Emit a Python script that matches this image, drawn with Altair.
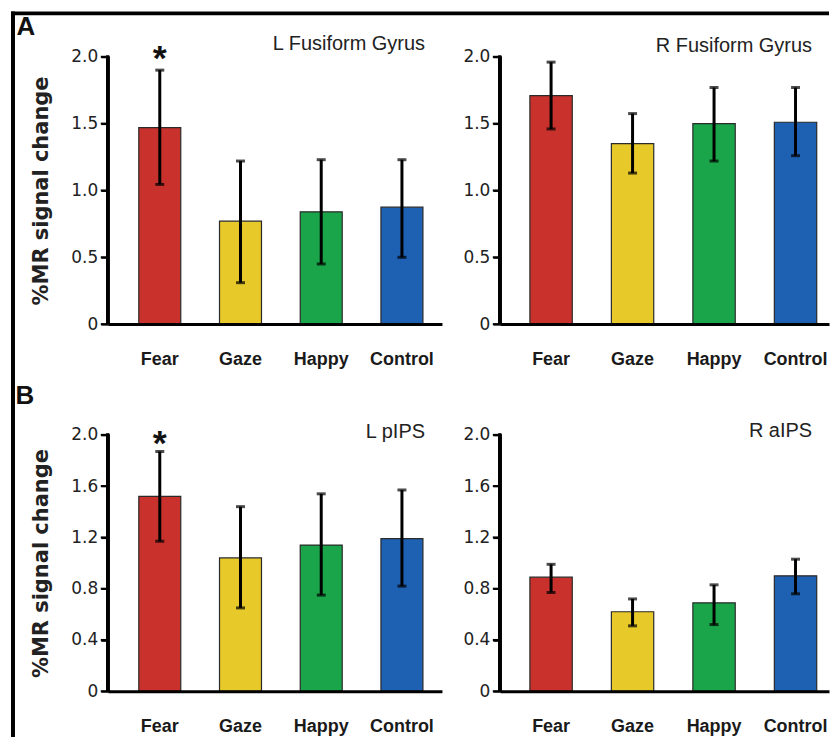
import altair as alt
import pandas as pd

# ---------------- data ----------------
categories = ["Fear", "Gaze", "Happy", "Control"]
bar_colors = ["#C8312C", "#E8C92A", "#1AA54A", "#1E61B3"]

panel_titles = ["L Fusiform Gyrus", "R Fusiform Gyrus", "L pIPS", "R aIPS"]
panel_letters = ["A", "B"]
y_axis_title = "%MR signal change"

lfg_mean = [1.47, 0.77, 0.84, 0.875]
lfg_low = [1.045, 0.31, 0.45, 0.50]
lfg_high = [1.90, 1.22, 1.23, 1.23]

rfg_mean = [1.71, 1.35, 1.50, 1.51]
rfg_low = [1.46, 1.13, 1.22, 1.26]
rfg_high = [1.96, 1.575, 1.77, 1.77]

lpips_mean = [1.52, 1.04, 1.14, 1.19]
lpips_low = [1.17, 0.65, 0.75, 0.82]
lpips_high = [1.87, 1.44, 1.54, 1.57]

raips_mean = [0.89, 0.62, 0.69, 0.90]
raips_low = [0.77, 0.51, 0.52, 0.76]
raips_high = [0.99, 0.72, 0.83, 1.03]

y_ticks_top = [0, 0.5, 1.0, 1.5, 2.0]
y_ticks_bottom = [0, 0.4, 0.8, 1.2, 1.6, 2.0]

star_categories = ["Fear", "Fear"]
star_values = [2.04, 1.99]

# ---------------- layout ----------------
W_LEFT, W_RIGHT = 335, 330
H_TOP, H_BOTTOM = 268, 257

LABEL_EXPR = "datum.value == 0 ? '0' : format(datum.value, '.1f')"


def panel(title, means, lows, highs, ticks, width, height, left, pad_outer, align,
          title_y, star=None, extra=None):
    df = pd.DataFrame({"cat": categories, "mean": means, "low": lows, "high": highs})
    xscale = alt.Scale(paddingInner=0.48, paddingOuter=pad_outer, align=align)
    xaxis = alt.Axis(title=None, labelAngle=0, ticks=False,
                     labelPadding=26, labelFont="Liberation Sans",
                     labelFontWeight="bold", labelFontSize=18,
                     labelColor="#1a1a1a", domain=True, domainColor="black",
                     domainWidth=3, zindex=1)
    yaxis_kwargs = dict(values=ticks, labelExpr=LABEL_EXPR, grid=False,
                        domain=True, ticks=True, domainColor="black",
                        domainWidth=3, tickColor="black", tickWidth=2,
                        tickSize=7, labelFont="DejaVu Sans",
                        labelFontSize=17, labelColor="#222", labelPadding=3,
                        zindex=1)
    if left:
        yaxis_kwargs.update(title=y_axis_title, titleFont="DejaVu Sans",
                            titleFontWeight="bold", titleFontSize=21,
                            titleColor="#222", titleAngle=270, titleX=-66,
                            titleY=height / 2, titleAlign="center",
                            titleBaseline="middle")
    else:
        yaxis_kwargs.update(title="")
    yscale = alt.Scale(domain=[0, 2], nice=False)

    def X():
        return alt.X("cat:N", sort=categories, scale=xscale, axis=xaxis)

    def Y(field):
        return alt.Y(field, scale=yscale, axis=alt.Axis(**yaxis_kwargs))

    base = alt.Chart(df)
    bars = base.mark_bar(stroke="#2a2a2a", strokeWidth=1.2).encode(
        x=X(), y=Y("mean:Q"),
        color=alt.Color("cat:N", scale=alt.Scale(domain=categories, range=bar_colors),
                        legend=None),
    )
    err = base.mark_rule(color="black", strokeWidth=3).encode(
        x=X(), y=Y("low:Q"), y2="high:Q",
    )
    caps = base.transform_fold(["low", "high"], as_=["k", "v"]).mark_tick(
        color="black", thickness=3, size=9
    ).encode(x=X(), y=Y("v:Q"))

    ttl = alt.Chart(pd.DataFrame({"t": [title]})).mark_text(
        align="right", baseline="alphabetic", font="Liberation Sans",
        fontSize=20, color="#222"
    ).encode(x=alt.value(width - 17), y=alt.value(title_y), text="t:N")

    layers = [bars, err, caps, ttl]
    if star is not None:
        sdf = pd.DataFrame({"cat": [star[0]], "y": [star[1]]})
        st = alt.Chart(sdf).mark_text(
            text="*", font="Liberation Sans", fontWeight="bold", fontSize=36,
            baseline="alphabetic", dy=19, color="#111"
        ).encode(x=X(), y=Y("y:Q"))
        layers.append(st)
    if extra:
        layers.extend(extra)

    # y-axis line and ticks, drawn last as marks as well
    tdf = pd.DataFrame({"tv": ticks})
    yline = alt.Chart(tdf).mark_rule(color="#000000", strokeWidth=3).encode(
        x=alt.value(0), y=alt.value(-1), y2=alt.value(height))
    yticks = alt.Chart(tdf).mark_rule(color="#000000", strokeWidth=2).encode(
        x=alt.value(-7), x2=alt.value(0), y=Y("tv:Q"))
    layers.extend([yline, yticks])
    return alt.layer(*layers).properties(width=width, height=height)


def letter(txt, x, y):
    return alt.Chart(pd.DataFrame({"t": [txt]})).mark_text(
        font="Liberation Sans", fontWeight="bold", fontSize=26,
        baseline="middle", align="center", color="#111"
    ).encode(x=alt.value(x), y=alt.value(y), text="t:N")


one = pd.DataFrame({"a": [0]})
frame_left = alt.Chart(one).mark_rule(color="black", strokeWidth=4).encode(
    x=alt.value(-95), y=alt.value(-45.5), y2=alt.value(682))
frame_top = alt.Chart(one).mark_rule(color="black", strokeWidth=4).encode(
    x=alt.value(-97), x2=alt.value(723), y=alt.value(-43.5))

tl = panel(panel_titles[0], lfg_mean, lfg_low, lfg_high, y_ticks_top, W_LEFT, H_TOP,
           True, 0.31, 0.62, -7, star=(star_categories[0], star_values[0]),
           extra=[frame_left, frame_top, letter(panel_letters[0], -82, -30)])
tr = panel(panel_titles[1], rfg_mean, rfg_low, rfg_high, y_ticks_top, W_RIGHT, H_TOP,
           False, 0.26, 0.71, -5)
bl = panel(panel_titles[2], lpips_mean, lpips_low, lpips_high, y_ticks_bottom, W_LEFT,
           H_BOTTOM, True, 0.31, 0.62, 3, star=(star_categories[1], star_values[1]),
           extra=[letter(panel_letters[1], -83, -39)])
br = panel(panel_titles[3], raips_mean, raips_low, raips_high, y_ticks_bottom, W_RIGHT,
           H_BOTTOM, False, 0.26, 0.71, 2)

chart = alt.concat(tl, tr, bl, br, columns=2, bounds="flush",
                   spacing={"row": 111, "column": 58}).properties(
    padding=0,
).configure_view(stroke="transparent")

chart.save("out.html", embed_options={"renderer": "svg", "actions": False})
